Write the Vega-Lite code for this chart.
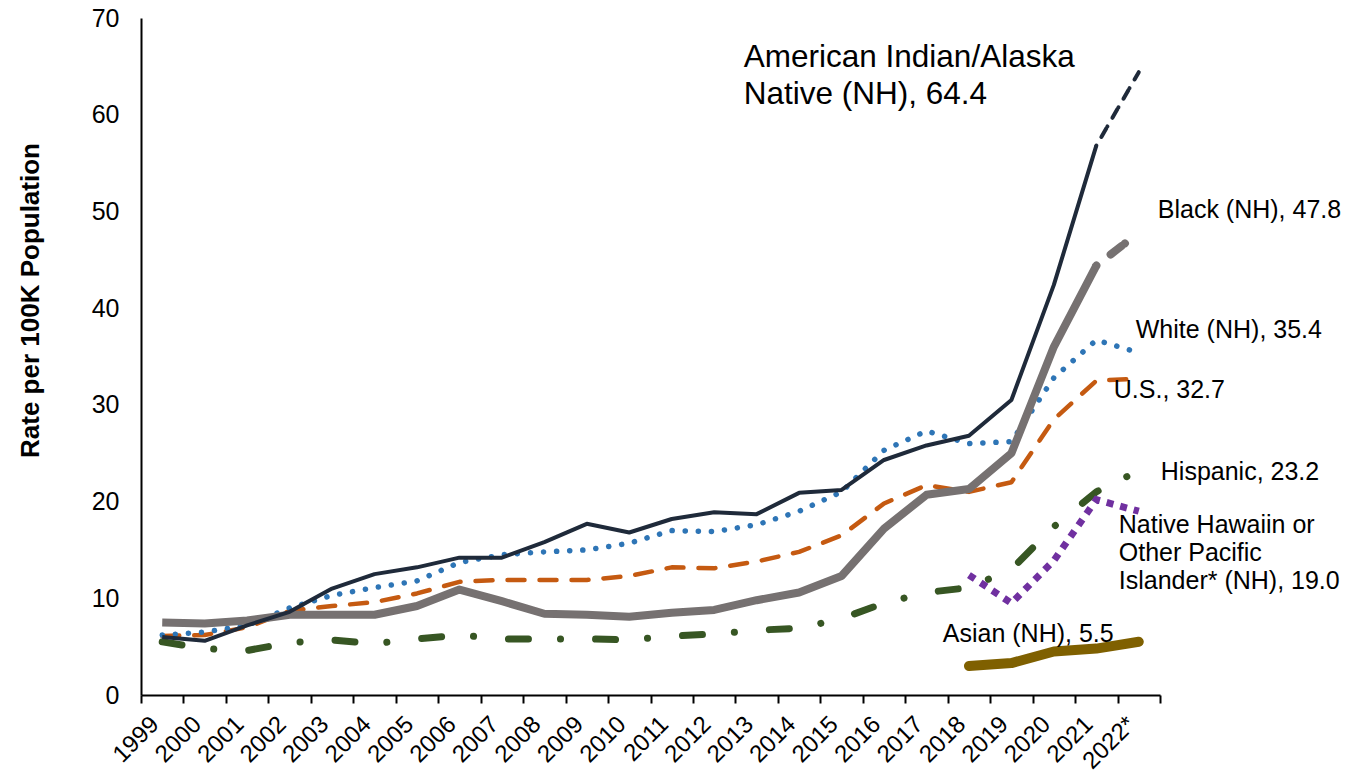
{
  "$schema": "https://vega.github.io/schema/vega-lite/v6.json",
  "width": 1019,
  "height": 677,
  "autosize": {"type": "none"},
  "padding": {"left": 141, "top": 18, "right": 187, "bottom": 78},
  "background": "white",
  "config": {
    "view": {"stroke": null},
    "font": "Liberation Sans",
    "text": {"font": "Liberation Sans", "color": "#000000"}
  },
  "datasets": {
    "rates": [
      {"series": "AIAN", "year": "1999", "rate": 6.0}, {"series": "AIAN", "year": "2000", "rate": 5.6}, {"series": "AIAN", "year": "2001", "rate": 7.2}, {"series": "AIAN", "year": "2002", "rate": 8.6}, {"series": "AIAN", "year": "2003", "rate": 11.0}, {"series": "AIAN", "year": "2004", "rate": 12.5}, {"series": "AIAN", "year": "2005", "rate": 13.2}, {"series": "AIAN", "year": "2006", "rate": 14.2}, {"series": "AIAN", "year": "2007", "rate": 14.2}, {"series": "AIAN", "year": "2008", "rate": 15.8}, {"series": "AIAN", "year": "2009", "rate": 17.7}, {"series": "AIAN", "year": "2010", "rate": 16.8}, {"series": "AIAN", "year": "2011", "rate": 18.2}, {"series": "AIAN", "year": "2012", "rate": 18.9}, {"series": "AIAN", "year": "2013", "rate": 18.7}, {"series": "AIAN", "year": "2014", "rate": 20.9}, {"series": "AIAN", "year": "2015", "rate": 21.2}, {"series": "AIAN", "year": "2016", "rate": 24.3}, {"series": "AIAN", "year": "2017", "rate": 25.8}, {"series": "AIAN", "year": "2018", "rate": 26.8}, {"series": "AIAN", "year": "2019", "rate": 30.5}, {"series": "AIAN", "year": "2020", "rate": 42.4}, {"series": "AIAN", "year": "2021", "rate": 56.8}, {"series": "AIAN", "year": "2022*", "rate": 64.4},
      {"series": "Black", "year": "1999", "rate": 7.5}, {"series": "Black", "year": "2000", "rate": 7.4}, {"series": "Black", "year": "2001", "rate": 7.7}, {"series": "Black", "year": "2002", "rate": 8.3}, {"series": "Black", "year": "2003", "rate": 8.3}, {"series": "Black", "year": "2004", "rate": 8.3}, {"series": "Black", "year": "2005", "rate": 9.2}, {"series": "Black", "year": "2006", "rate": 10.9}, {"series": "Black", "year": "2007", "rate": 9.7}, {"series": "Black", "year": "2008", "rate": 8.4}, {"series": "Black", "year": "2009", "rate": 8.3}, {"series": "Black", "year": "2010", "rate": 8.1}, {"series": "Black", "year": "2011", "rate": 8.5}, {"series": "Black", "year": "2012", "rate": 8.8}, {"series": "Black", "year": "2013", "rate": 9.8}, {"series": "Black", "year": "2014", "rate": 10.6}, {"series": "Black", "year": "2015", "rate": 12.3}, {"series": "Black", "year": "2016", "rate": 17.2}, {"series": "Black", "year": "2017", "rate": 20.7}, {"series": "Black", "year": "2018", "rate": 21.3}, {"series": "Black", "year": "2019", "rate": 25.0}, {"series": "Black", "year": "2020", "rate": 36.0}, {"series": "Black", "year": "2021", "rate": 44.4}, {"series": "Black", "year": "2022*", "rate": 47.8},
      {"series": "White", "year": "1999", "rate": 6.2}, {"series": "White", "year": "2000", "rate": 6.5}, {"series": "White", "year": "2001", "rate": 7.2}, {"series": "White", "year": "2002", "rate": 9.0}, {"series": "White", "year": "2003", "rate": 10.3}, {"series": "White", "year": "2004", "rate": 11.1}, {"series": "White", "year": "2005", "rate": 11.8}, {"series": "White", "year": "2006", "rate": 13.7}, {"series": "White", "year": "2007", "rate": 14.5}, {"series": "White", "year": "2008", "rate": 14.8}, {"series": "White", "year": "2009", "rate": 15.0}, {"series": "White", "year": "2010", "rate": 15.7}, {"series": "White", "year": "2011", "rate": 17.0}, {"series": "White", "year": "2012", "rate": 16.9}, {"series": "White", "year": "2013", "rate": 17.6}, {"series": "White", "year": "2014", "rate": 19.0}, {"series": "White", "year": "2015", "rate": 21.0}, {"series": "White", "year": "2016", "rate": 25.3}, {"series": "White", "year": "2017", "rate": 27.3}, {"series": "White", "year": "2018", "rate": 26.0}, {"series": "White", "year": "2019", "rate": 26.2}, {"series": "White", "year": "2020", "rate": 32.8}, {"series": "White", "year": "2021", "rate": 36.7}, {"series": "White", "year": "2022*", "rate": 35.4},
      {"series": "US", "year": "1999", "rate": 6.1}, {"series": "US", "year": "2000", "rate": 6.2}, {"series": "US", "year": "2001", "rate": 7.0}, {"series": "US", "year": "2002", "rate": 8.7}, {"series": "US", "year": "2003", "rate": 9.2}, {"series": "US", "year": "2004", "rate": 9.6}, {"series": "US", "year": "2005", "rate": 10.5}, {"series": "US", "year": "2006", "rate": 11.7}, {"series": "US", "year": "2007", "rate": 11.9}, {"series": "US", "year": "2008", "rate": 11.9}, {"series": "US", "year": "2009", "rate": 11.9}, {"series": "US", "year": "2010", "rate": 12.3}, {"series": "US", "year": "2011", "rate": 13.2}, {"series": "US", "year": "2012", "rate": 13.1}, {"series": "US", "year": "2013", "rate": 13.8}, {"series": "US", "year": "2014", "rate": 14.8}, {"series": "US", "year": "2015", "rate": 16.5}, {"series": "US", "year": "2016", "rate": 19.8}, {"series": "US", "year": "2017", "rate": 21.7}, {"series": "US", "year": "2018", "rate": 21.0}, {"series": "US", "year": "2019", "rate": 22.0}, {"series": "US", "year": "2020", "rate": 28.5}, {"series": "US", "year": "2021", "rate": 32.5}, {"series": "US", "year": "2022*", "rate": 32.7},
      {"series": "Hispanic", "year": "1999", "rate": 5.5}, {"series": "Hispanic", "year": "2000", "rate": 4.8}, {"series": "Hispanic", "year": "2001", "rate": 4.6}, {"series": "Hispanic", "year": "2002", "rate": 5.4}, {"series": "Hispanic", "year": "2003", "rate": 5.7}, {"series": "Hispanic", "year": "2004", "rate": 5.3}, {"series": "Hispanic", "year": "2005", "rate": 5.8}, {"series": "Hispanic", "year": "2006", "rate": 6.2}, {"series": "Hispanic", "year": "2007", "rate": 5.8}, {"series": "Hispanic", "year": "2008", "rate": 5.8}, {"series": "Hispanic", "year": "2009", "rate": 5.8}, {"series": "Hispanic", "year": "2010", "rate": 5.7}, {"series": "Hispanic", "year": "2011", "rate": 6.1}, {"series": "Hispanic", "year": "2012", "rate": 6.3}, {"series": "Hispanic", "year": "2013", "rate": 6.7}, {"series": "Hispanic", "year": "2014", "rate": 6.9}, {"series": "Hispanic", "year": "2015", "rate": 7.9}, {"series": "Hispanic", "year": "2016", "rate": 9.5}, {"series": "Hispanic", "year": "2017", "rate": 10.6}, {"series": "Hispanic", "year": "2018", "rate": 11.1}, {"series": "Hispanic", "year": "2019", "rate": 13.0}, {"series": "Hispanic", "year": "2020", "rate": 17.4}, {"series": "Hispanic", "year": "2021", "rate": 21.0}, {"series": "Hispanic", "year": "2022*", "rate": 23.2},
      {"series": "NHPI", "year": "2018", "rate": 12.4}, {"series": "NHPI", "year": "2019", "rate": 9.5}, {"series": "NHPI", "year": "2020", "rate": 13.9}, {"series": "NHPI", "year": "2021", "rate": 20.2}, {"series": "NHPI", "year": "2022*", "rate": 19.0},
      {"series": "Asian", "year": "2018", "rate": 3.0}, {"series": "Asian", "year": "2019", "rate": 3.3}, {"series": "Asian", "year": "2020", "rate": 4.5}, {"series": "Asian", "year": "2021", "rate": 4.8}, {"series": "Asian", "year": "2022*", "rate": 5.5}
    ]
  },
  "data": {"name": "rates"},
  "encoding": {
    "x": {
      "field": "year",
      "type": "ordinal",
      "bandPosition": 0.5,
      "scale": {
        "type": "band",
        "paddingInner": 0,
        "paddingOuter": 0,
        "domain": ["1999", "2000", "2001", "2002", "2003", "2004", "2005", "2006", "2007", "2008", "2009", "2010", "2011", "2012", "2013", "2014", "2015", "2016", "2017", "2018", "2019", "2020", "2021", "2022*"]
      },
      "axis": {
        "title": null,
        "labelAngle": -45,
        "labelFontSize": 24,
        "labelColor": "#000000",
        "labelPadding": 9,
        "labelOffset": -16,
        "tickBand": "extent",
        "tickSize": 8,
        "tickWidth": 2,
        "tickColor": "#000000",
        "domainColor": "#000000",
        "domainWidth": 2,
        "grid": false,
        "labelOverlap": false
      }
    },
    "y": {
      "field": "rate",
      "type": "quantitative",
      "scale": {"domain": [0, 70], "nice": false},
      "axis": {
        "title": "Rate per 100K Population",
        "titleFontSize": 26,
        "titleFontWeight": "bold",
        "titleColor": "#000000",
        "titleX": -111,
        "titleY": 282,
        "titleAlign": "center",
        "titleBaseline": "middle",
        "titleAngle": 270,
        "values": [0, 10, 20, 30, 40, 50, 60, 70],
        "labelFontSize": 25,
        "labelColor": "#000000",
        "labelPadding": 22,
        "ticks": false,
        "tickSize": 0,
        "domainColor": "#000000",
        "domainWidth": 2,
        "grid": false
      }
    }
  },
  "layer": [
    {"transform": [{"filter": "datum.series === 'US'"}], "mark": {"type": "line", "color": "#C55A11", "strokeWidth": 4.5, "strokeDash": [17, 15], "strokeCap": "round", "strokeJoin": "round"}},
    {"transform": [{"filter": "datum.series === 'White'"}], "mark": {"type": "line", "color": "#2E75B6", "strokeWidth": 5.5, "strokeDash": [0.1, 13], "strokeCap": "round", "strokeJoin": "round"}},
    {"transform": [{"filter": "datum.series === 'Hispanic'"}], "mark": {"type": "line", "color": "#375623", "strokeWidth": 7, "strokeDash": [20, 32, 0.1, 35], "strokeCap": "round", "strokeJoin": "round"}},
    {"transform": [{"filter": "datum.series === 'Black' && datum.year !== '2022*'"}], "mark": {"type": "line", "color": "#767171", "strokeWidth": 8, "strokeJoin": "round"}},
    {"transform": [{"filter": "datum.series === 'Black' && (datum.year === '2021' || datum.year === '2022*')"}], "mark": {"type": "line", "color": "#767171", "strokeWidth": 8, "strokeDash": [0.1, 18, 14, 4], "strokeCap": "round"}},
    {"transform": [{"filter": "datum.series === 'AIAN' && datum.year !== '2022*'"}], "mark": {"type": "line", "color": "#1F2A3A", "strokeWidth": 4, "strokeJoin": "round"}},
    {"transform": [{"filter": "datum.series === 'AIAN' && (datum.year === '2021' || datum.year === '2022*')"}], "mark": {"type": "line", "color": "#1F2A3A", "strokeWidth": 4, "strokeDash": [0.1, 10, 10, 2], "strokeCap": "round"}},
    {"transform": [{"filter": "datum.series === 'Asian'"}], "mark": {"type": "line", "color": "#7F6000", "strokeWidth": 10, "strokeCap": "round", "strokeJoin": "round"}},
    {"transform": [{"filter": "datum.series === 'NHPI'"}], "mark": {"type": "line", "color": "#7030A0", "strokeWidth": 7, "strokeDash": [7, 7], "strokeCap": "butt"}},
    {"transform": [{"filter": "datum.series === 'AIAN' && datum.year === '2022*'"}], "mark": {"type": "text", "text": ["American Indian/Alaska", "Native (NH), 64.4"], "fontSize": 31.5, "lineHeight": 37, "align": "left", "baseline": "alphabetic", "dx": -395, "dy": -5}},
    {"transform": [{"filter": "datum.series === 'Black' && datum.year === '2022*'"}], "mark": {"type": "text", "text": "Black (NH), 47.8", "fontSize": 25, "align": "left", "baseline": "alphabetic", "dx": 19, "dy": -15}},
    {"transform": [{"filter": "datum.series === 'White' && datum.year === '2022*'"}], "mark": {"type": "text", "text": "White (NH), 35.4", "fontSize": 25, "align": "left", "baseline": "alphabetic", "dx": -3, "dy": -15}},
    {"transform": [{"filter": "datum.series === 'US' && datum.year === '2022*'"}], "mark": {"type": "text", "text": "U.S., 32.7", "fontSize": 25, "align": "left", "baseline": "alphabetic", "dx": -25, "dy": 19}},
    {"transform": [{"filter": "datum.series === 'Hispanic' && datum.year === '2022*'"}], "mark": {"type": "text", "text": "Hispanic, 23.2", "fontSize": 25, "align": "left", "baseline": "alphabetic", "dx": 22, "dy": 9}},
    {"transform": [{"filter": "datum.series === 'NHPI' && datum.year === '2022*'"}], "mark": {"type": "text", "text": ["Native Hawaiin or", "Other Pacific", "Islander* (NH), 19.0"], "fontSize": 25, "lineHeight": 28, "align": "left", "baseline": "alphabetic", "dx": -20, "dy": 22}},
    {"transform": [{"filter": "datum.series === 'Asian' && datum.year === '2022*'"}], "mark": {"type": "text", "text": "Asian (NH), 5.5", "fontSize": 25, "align": "left", "baseline": "alphabetic", "dx": -196, "dy": 0}}
  ]
}
